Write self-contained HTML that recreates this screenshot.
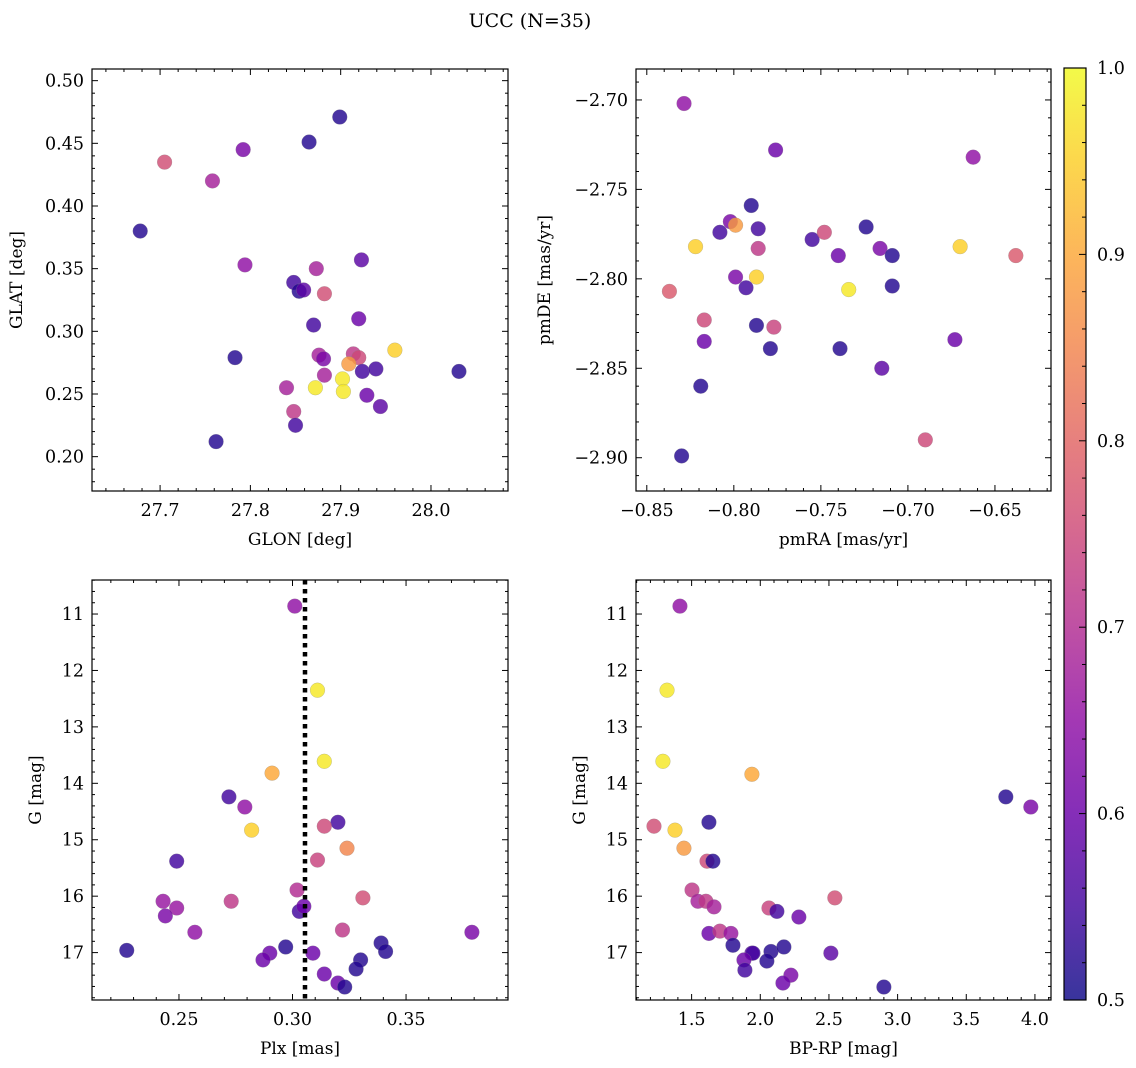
<!DOCTYPE html>
<html><head><meta charset="utf-8"><style>
html,body{margin:0;padding:0;background:#fff;}
svg{display:block;font-family:"DejaVu Serif","Liberation Serif",serif;}
</style></head><body>
<svg id="fig" width="1136" height="1068" viewBox="0 0 1136 1068" xmlns="http://www.w3.org/2000/svg">
<defs><linearGradient id="cbgrad" x1="0" y1="1" x2="0" y2="0">
<stop offset="0" stop-color="#0d0887"/><stop offset="0.1" stop-color="#41049d"/><stop offset="0.2" stop-color="#6a00a8"/><stop offset="0.3" stop-color="#8f0da4"/><stop offset="0.4" stop-color="#b12a90"/><stop offset="0.5" stop-color="#cc4778"/><stop offset="0.6" stop-color="#e16462"/><stop offset="0.7" stop-color="#f2844b"/><stop offset="0.8" stop-color="#fca636"/><stop offset="0.9" stop-color="#fcce25"/><stop offset="1" stop-color="#f0f921"/></linearGradient></defs>
<text x="530" y="27" font-size="19" text-anchor="middle">UCC (N=35)</text>
</svg>
<script>
// Panel 1: GLON vs GLAT
const glon=[27.705,27.758,27.792,27.865,27.899,27.678,27.794,27.873,27.923,27.848,27.854,27.859,27.882,27.870,27.920,27.783,27.876,27.881,27.914,27.920,27.909,27.960,27.882,27.924,27.939,28.031,27.902,27.872,27.903,27.840,27.929,27.944,27.848,27.850,27.762];
const glat=[0.435,0.420,0.445,0.451,0.471,0.380,0.353,0.350,0.357,0.339,0.332,0.333,0.330,0.305,0.310,0.279,0.281,0.278,0.282,0.279,0.274,0.285,0.265,0.268,0.270,0.268,0.262,0.255,0.252,0.255,0.249,0.240,0.236,0.225,0.212];
const prob1=[0.76,0.68,0.62,0.52,0.52,0.52,0.65,0.68,0.58,0.55,0.52,0.58,0.76,0.55,0.6,0.52,0.68,0.62,0.72,0.75,0.88,0.95,0.68,0.55,0.55,0.52,0.98,0.98,0.98,0.68,0.6,0.58,0.72,0.55,0.52];
// Panel 2: pmRA vs pmDE
const pmra=[-0.8286,-0.776,-0.6625,-0.790,-0.786,-0.808,-0.802,-0.799,-0.755,-0.748,-0.724,-0.822,-0.786,-0.740,-0.716,-0.709,-0.670,-0.638,-0.799,-0.787,-0.793,-0.734,-0.709,-0.837,-0.817,-0.787,-0.777,-0.817,-0.779,-0.739,-0.673,-0.715,-0.819,-0.690,-0.830];
const pmde=[-2.702,-2.728,-2.732,-2.759,-2.772,-2.774,-2.768,-2.770,-2.778,-2.774,-2.771,-2.782,-2.783,-2.787,-2.783,-2.787,-2.782,-2.787,-2.799,-2.799,-2.805,-2.806,-2.804,-2.807,-2.823,-2.826,-2.827,-2.835,-2.839,-2.839,-2.834,-2.850,-2.860,-2.890,-2.899];
const prob2=[0.65,0.6,0.65,0.52,0.55,0.55,0.62,0.88,0.55,0.75,0.52,0.95,0.72,0.6,0.62,0.52,0.95,0.78,0.62,0.95,0.55,0.98,0.52,0.78,0.75,0.52,0.74,0.6,0.52,0.52,0.6,0.58,0.52,0.75,0.52];
// Panel 3: Plx vs G
const plx=[0.301,0.311,0.314,0.291,0.272,0.279,0.282,0.320,0.314,0.324,0.249,0.311,0.302,0.331,0.243,0.249,0.273,0.303,0.305,0.244,0.257,0.322,0.379,0.339,0.227,0.297,0.290,0.309,0.341,0.287,0.330,0.314,0.328,0.320,0.323];
const gmag3=[10.86,12.35,13.61,13.82,14.24,14.42,14.83,14.69,14.76,15.15,15.38,15.36,15.89,16.03,16.09,16.21,16.09,16.27,16.18,16.35,16.64,16.60,16.64,16.83,16.96,16.90,17.01,17.01,16.98,17.13,17.13,17.38,17.29,17.54,17.61];
const prob3=[0.65,0.98,0.98,0.9,0.55,0.65,0.95,0.55,0.75,0.85,0.55,0.74,0.7,0.76,0.66,0.66,0.72,0.55,0.6,0.62,0.65,0.72,0.62,0.52,0.52,0.52,0.6,0.6,0.52,0.6,0.52,0.6,0.52,0.6,0.52];
const plxRef=[0.3055];
// Panel 4: BP-RP vs G
const bprp=[1.415,1.321,1.291,1.939,3.788,3.970,1.226,1.379,1.626,1.444,1.612,1.655,1.503,1.546,1.604,1.663,2.063,2.121,2.281,2.543,1.626,1.706,1.786,1.801,1.939,1.947,1.881,1.888,2.078,2.048,2.172,2.223,2.165,2.514,2.900];
const gmag4=[10.86,12.35,13.61,13.84,14.24,14.42,14.76,14.83,14.69,15.15,15.38,15.38,15.89,16.09,16.09,16.19,16.21,16.27,16.37,16.03,16.66,16.62,16.66,16.87,17.01,17.01,17.13,17.31,16.98,17.15,16.90,17.40,17.54,17.01,17.61];
const prob4=[0.65,0.98,0.98,0.9,0.52,0.62,0.76,0.95,0.52,0.88,0.75,0.52,0.72,0.68,0.72,0.68,0.74,0.55,0.6,0.76,0.6,0.72,0.66,0.52,0.58,0.55,0.6,0.55,0.52,0.52,0.52,0.62,0.6,0.58,0.52];
const cbTicks=[0.5,0.6,0.7,0.8,0.9,1.0];

const NS="http://www.w3.org/2000/svg";
const svg=document.getElementById('fig');
function mk(tag,attrs,parent){const e=document.createElementNS(NS,tag);for(const k in attrs)e.setAttribute(k,attrs[k]);(parent||svg).appendChild(e);return e;}
const stops=[[0,13,8,135],[0.1,65,4,157],[0.2,106,0,168],[0.3,143,13,164],[0.4,177,42,144],[0.5,204,71,120],[0.6,225,100,98],[0.7,242,132,75],[0.8,252,166,54],[0.9,252,206,37],[1,240,249,33]];
function plasma(v){let t=Math.max(0,Math.min(1,(v-0.5)/0.5));for(let i=1;i<stops.length;i++){if(t<=stops[i][0]){const a=stops[i-1],b=stops[i],f=(t-a[0])/(b[0]-a[0]);return `rgb(${Math.round(a[1]+f*(b[1]-a[1]))},${Math.round(a[2]+f*(b[2]-a[2]))},${Math.round(a[3]+f*(b[3]-a[3]))})`;}}return 'rgb(240,249,33)';}
function fmt(v,d){const s=Math.abs(v).toFixed(d);return (v<-1e-9?'\u2212':'')+s;}

function panel(o){
  const g=mk('g',{});
  
  
  const sx=v=>o.x0+(v-o.xd[0])/(o.xd[1]-o.xd[0])*(o.x1-o.x0);
  const sy=v=>o.y0+(v-o.yd[0])/(o.yd[1]-o.yd[0])*(o.y1-o.y0);
  for(let i=0;i<o.xs.length;i++){
    const c=mk('circle',{cx:sx(o.xs[i]),cy:sy(o.ys[i]),r:7.4,fill:plasma(o.cs[i]),'fill-opacity':0.82,stroke:'#888','stroke-width':0.4,'stroke-opacity':0.6},g);
    
    
  }
  if(o.vline){const l=mk('line',{x1:sx(o.vline),x2:sx(o.vline),y1:o.y0,y2:o.y1,stroke:'#000','stroke-width':4.5,'stroke-dasharray':'4.5,4.5'},g);
    
    }
  mk('rect',{x:o.x0,y:o.y0,width:o.x1-o.x0,height:o.y1-o.y0,fill:'none',stroke:'#000','stroke-width':1.2},g);
  const xlo=Math.min(...o.xd),xhi=Math.max(...o.xd);
  for(let k=Math.ceil(xlo/o.xmin-1e-6);k*o.xmin<=xhi+1e-9;k++){
    const v=k*o.xmin,X=sx(v);const maj=Math.abs(v/o.xmaj-Math.round(v/o.xmaj))<1e-4;const L=maj?6:3;
    mk('line',{x1:X,x2:X,y1:o.y1,y2:o.y1-L,stroke:'#000','stroke-width':1},g);
    mk('line',{x1:X,x2:X,y1:o.y0,y2:o.y0+L,stroke:'#000','stroke-width':1},g);
    if(maj){const t=mk('text',{x:X,y:o.y1+25,'font-size':17.5,'text-anchor':'middle'},g);t.textContent=fmt(v,o.xdec);
      
      }
  }
  const ylo=Math.min(...o.yd),yhi=Math.max(...o.yd);
  for(let k=Math.ceil(ylo/o.ymin-1e-6);k*o.ymin<=yhi+1e-9;k++){
    const v=k*o.ymin,Y=sy(v);const maj=Math.abs(v/o.ymaj-Math.round(v/o.ymaj))<1e-4;const L=maj?6:3;
    mk('line',{x1:o.x0,x2:o.x0+L,y1:Y,y2:Y,stroke:'#000','stroke-width':1},g);
    mk('line',{x1:o.x1,x2:o.x1-L,y1:Y,y2:Y,stroke:'#000','stroke-width':1},g);
    if(maj){const t=mk('text',{x:o.x0-8,y:Y+6,'font-size':17.5,'text-anchor':'end'},g);t.textContent=fmt(v,o.ydec);
      
      }
  }
  const xl=mk('text',{x:(o.x0+o.x1)/2,y:o.y1+54,'font-size':17,'text-anchor':'middle'},g);xl.textContent=o.xlab;
  
  
  const yx=o.ylx,yy=(o.y0+o.y1)/2;
  const yl=mk('text',{x:yx,y:yy,'font-size':17,'text-anchor':'middle',transform:`rotate(-90 ${yx} ${yy})`},g);yl.textContent=o.ylab;
  
  
}
panel({name:'glon-glat-panel',x0:92,x1:508,y0:69,y1:491,xd:[27.6246,28.0853],yd:[0.5093,0.1726],xs:glon,ys:glat,cs:prob1,xmaj:0.1,xmin:0.02,ymaj:0.05,ymin:0.01,xdec:1,ydec:2,xlab:'GLON [deg]',ylab:'GLAT [deg]',ylx:22});
panel({name:'proper-motion-panel',x0:636,x1:1051,y0:69,y1:491,xd:[-0.8562,-0.6178],yd:[-2.6827,-2.9186],xs:pmra,ys:pmde,cs:prob2,xmaj:0.05,xmin:0.01,ymaj:0.05,ymin:0.01,xdec:2,ydec:2,xlab:'pmRA [mas/yr]',ylab:'pmDE [mas/yr]',ylx:550});
panel({name:'plx-g-panel',x0:92,x1:508,y0:580,y1:1000,xd:[0.2117,0.3949],yd:[10.397,17.84],xs:plx,ys:gmag3,cs:prob3,xmaj:0.05,xmin:0.01,ymaj:1,ymin:0.2,xdec:2,ydec:0,xlab:'Plx [mas]',ylab:'G [mag]',ylx:41,vline:plxRef[0]});
panel({name:'cmd-panel',x0:636,x1:1051,y0:580,y1:1000,xd:[1.095,4.117],yd:[10.397,17.84],xs:bprp,ys:gmag4,cs:prob4,xmaj:0.5,xmin:0.1,ymaj:1,ymin:0.2,xdec:1,ydec:0,xlab:'BP-RP [mag]',ylab:'G [mag]',ylx:585});
const cb=mk('g',{});


const cbx0=1064,cbx1=1086,cby0=68,cby1=1000;
mk('rect',{x:cbx0,y:cby0,width:cbx1-cbx0,height:cby1-cby0,fill:'url(#cbgrad)','fill-opacity':0.82,stroke:'#000','stroke-width':1.2},cb);
const cy=v=>cby1-(v-0.5)/0.5*(cby1-cby0);
for(let k=25;k<=50;k++){const v=k*0.02,Y=cy(v);const maj=(k%5===0);
  mk('line',{x1:cbx1,x2:cbx1-(maj?7:4),y1:Y,y2:Y,stroke:'#000','stroke-width':1},cb);}
cbTicks.forEach(v=>{const t=mk('text',{x:1097,y:cy(v)+6,'font-size':17.5},cb);t.textContent=v.toFixed(1);
  
  });
</script>
</body></html>
